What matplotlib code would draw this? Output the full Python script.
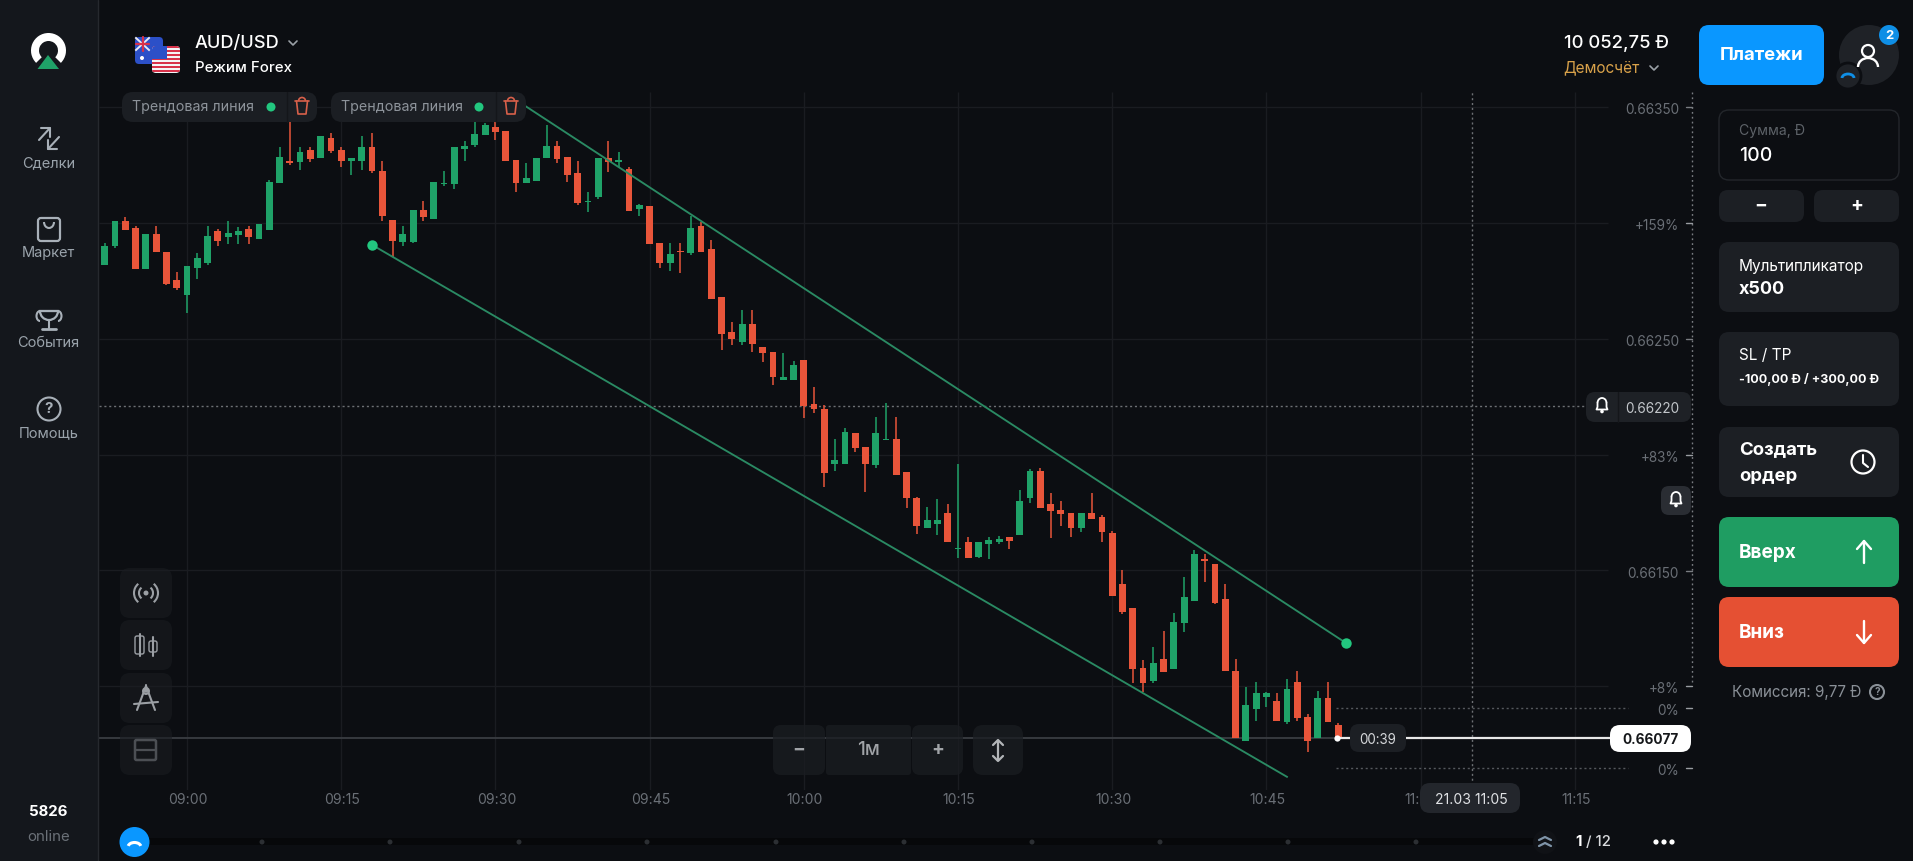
#!/usr/bin/env python3
"""AUD/USD 1m candles inside the trading terminal screen."""
import numpy as np
import matplotlib
matplotlib.use("Agg")
import matplotlib.pyplot as plt
from matplotlib.patches import Circle, FancyBboxPatch, Rectangle, Wedge, Polygon, Arc

plt.rcParams["font.family"] = ["Inter", "Roboto", "DejaVu Sans"]

# candles, prices x 1e6, one per minute; first candle is 8 minutes before 09:00
first_minute = -8
opens = [662819, 662901, 663009, 662978, 662802, 662955, 662877, 662755, 662690, 662808,
         662829, 662966, 662939, 662948, 662976, 662933, 662971, 663171, 663270, 663263,
         663317, 663279, 663366, 663317, 663268, 663268, 663327, 663225, 663012, 662920,
         662920, 663057, 663019, 663168, 663169, 663322, 663338, 663382, 663414, 663398,
         663273, 663171, 663181, 663279, 663333, 663284, 663215, 663090, 663112, 663281,
         663264, 663234, 663063, 663073, 662916, 662829, 662878, 662870, 662988, 662886,
         662680, 662528, 662485, 662566, 662467, 662445, 662323, 662323, 662407, 662220,
         662199, 661960, 661960, 662095, 662035, 661957, 662063, 662068, 661925, 661815,
         661683, 661699, 661750, 661593, 661622, 661560, 661613, 661623, 661645, 661652,
         661812, 661931, 661787, 661760, 661747, 661682, 661748, 661729, 661660, 661441,
         661338, 661077, 661024, 661116, 661073, 661273, 661369, 661551, 661528, 661376,
         661066, 660765, 660904, 660955, 660938, 660844, 661017, 660868, 660775, 660949,
         660831]
closes = [662903, 663008, 662971, 662802, 662955, 662874, 662737, 662719, 662814, 662848,
          662943, 662922, 662956, 662968, 662939, 662998, 663176, 663284, 663260, 663306,
          663277, 663376, 663310, 663268, 663283, 663327, 663227, 663030, 662922, 662955,
          663055, 663028, 663176, 663175, 663327, 663332, 663386, 663425, 663392, 663268,
          663171, 663196, 663283, 663333, 663277, 663208, 663086, 663096, 663283, 663263,
          663271, 663053, 663076, 662910, 662829, 662867, 662876, 662978, 662877, 662674,
          662523, 662501, 662566, 662478, 662441, 662334, 662337, 662389, 662210, 662199,
          661921, 661976, 662097, 662029, 661960, 662095, 662069, 661911, 661812, 661692,
          661718, 661718, 661625, 661599, 661553, 661623, 661632, 661638, 661629, 661799,
          661931, 661770, 661755, 661744, 661683, 661747, 661722, 661664, 661391, 661320,
          661073, 661014, 661099, 661063, 661279, 661387, 661571, 661543, 661358, 661064,
          660775, 660917, 660969, 660969, 660851, 660988, 660861, 660763, 660949, 660845,
          660778]
highs = [662916, 663008, 663025, 662988, 662955, 662988, 662877, 662788, 662814, 662870,
         662988, 662976, 663009, 662985, 662988, 662998, 663186, 663327, 663445, 663327,
         663327, 663376, 663388, 663330, 663283, 663376, 663391, 663267, 663012, 662988,
         663055, 663096, 663176, 663227, 663327, 663355, 663438, 663434, 663443, 663398,
         663273, 663258, 663283, 663424, 663355, 663284, 663266, 663136, 663283, 663355,
         663306, 663244, 663084, 663073, 662916, 662916, 662916, 663031, 663004, 662927,
         662680, 662574, 662625, 662625, 662467, 662445, 662438, 662406, 662407, 662294,
         662215, 662066, 662114, 662095, 662035, 662164, 662225, 662161, 661925, 661819,
         661776, 661809, 661786, 661960, 661643, 661623, 661646, 661649, 661645, 661848,
         661937, 661941, 661836, 661800, 661747, 661747, 661836, 661739, 661671, 661502,
         661338, 661113, 661171, 661240, 661317, 661470, 661588, 661571, 661528, 661440,
         661116, 660998, 661020, 660976, 660972, 661030, 661067, 660880, 660981, 661020,
         660843]
lows = [662819, 662893, 662971, 662802, 662802, 662874, 662733, 662711, 662611, 662759,
        662821, 662901, 662910, 662910, 662909, 662933, 662971, 663171, 663253, 663230,
        663264, 663279, 663302, 663241, 663208, 663230, 663218, 663009, 662855, 662901,
        662913, 663009, 663019, 663159, 663149, 663268, 663327, 663382, 663359, 663268,
        663135, 663171, 663181, 663279, 663261, 663179, 663077, 663050, 663103, 663220,
        663241, 663053, 663032, 662910, 662808, 662794, 662783, 662863, 662877, 662674,
        662452, 662474, 662474, 662442, 662402, 662299, 662323, 662323, 662160, 662181,
        661862, 661930, 661960, 662013, 661840, 661944, 662063, 661911, 661768, 661658,
        661683, 661653, 661625, 661553, 661553, 661553, 661548, 661614, 661591, 661652,
        661790, 661770, 661639, 661692, 661643, 661665, 661722, 661624, 661391, 661310,
        661012, 660976, 661012, 661063, 661073, 661235, 661369, 661451, 661355, 661064,
        660775, 660765, 660851, 660912, 660851, 660837, 660851, 660717, 660775, 660845,
        660775]

# two trend lines (minute, price x 1e6)
upper_minutes = [33.0, 112.7]
upper_prices = [663503, 661188]
lower_minutes = [18.0, 107.0]
lower_prices = [662906, 660609]

grid_prices = [0.6635, 0.6630, 0.6625, 0.6620, 0.6615, 0.6610]
grid_minutes = [0, 15, 30, 45, 60, 75, 90, 105, 120, 135]
time_minutes = [0, 15, 30, 45, 60, 75, 90, 105, 120, 135]
# 11:00 sits half under the date pill, only its start shows
time_labels = ["09:00", "09:15", "09:30", "09:45", "10:00", "10:15", "10:30", "10:45", "11:", "11:15"]
price_labels = ["0.66350", "0.66250", "0.66150"]
price_label_values = [0.6635, 0.6625, 0.6615]
pct_labels = ["+159%", "+83%", "+8%", "0%", "0%"]
pct_values = [0.6630, 0.6620, 0.6610, 0.660906, 0.660648]
current_price = 0.660778
cross_price = 0.66221
cross_minute = 125

W, H = 1913, 861
BG = "#0c0e12"
SIDE = "#14171c"
PANEL = "#1c1f24"
GREEN = "#1fa268"
RED = "#e8553a"
LINE_GREEN = "#2a8a63"
DOT_GREEN = "#22c77f"
BLUE = "#0a97ff"
GRID = "#1a1c21"
GREY = "#6a6f76"

# pixel scale of the chart
PX_MIN = 10.28


def px_to_minute(px):
    return (px - 187) / PX_MIN


def py_to_price(py):
    return (663500 - (py - 107.3) * 4.318) / 1e6


fig = plt.figure(figsize=(W / 100, H / 100), dpi=100, facecolor=BG)

# chart axes, real price / minute scale
c_left, c_right, c_top, c_bottom = 99, 1692, 92, 790
ax = fig.add_axes([c_left / W, 1 - c_bottom / H, (c_right - c_left) / W, (c_bottom - c_top) / H])
ax.set_xlim(px_to_minute(c_left), px_to_minute(c_right))
ax.set_ylim(py_to_price(c_bottom), py_to_price(c_top))
ax.axis("off")

minutes = first_minute + np.arange(len(opens))
o = np.array(opens) / 1e6
c = np.array(closes) / 1e6
hi = np.array(highs) / 1e6
lo = np.array(lows) / 1e6
colors = [GREEN if a >= b else RED for a, b in zip(c, o)]

grid_end = px_to_minute(1608)
ax.hlines(grid_prices, px_to_minute(c_left), grid_end, color=GRID, lw=1, zorder=1)
ax.vlines(grid_minutes, *ax.get_ylim(), color=GRID, lw=1, zorder=1)

# current price line and crosshair
ax.hlines(current_price, px_to_minute(c_left), px_to_minute(1337), color="#3a3d42", lw=1.3, zorder=2)
ax.hlines(cross_price, px_to_minute(c_left), px_to_minute(1588), color="#6d7074", lw=1, ls=(0, (1.5, 2)), zorder=2)
ax.vlines(cross_minute, *ax.get_ylim(), color="#6d7074", lw=1, ls=(0, (1.5, 2)), zorder=2)
ax.hlines(pct_values[3:], px_to_minute(1336), px_to_minute(1628), color="#55585d", lw=1, ls=(0, (1.5, 2)), zorder=2)

ax.vlines(minutes, lo, hi, color=colors, lw=1.1, zorder=3)
ax.bar(minutes, np.abs(c - o), bottom=np.minimum(o, c), width=0.66, color=colors, zorder=4, linewidth=0)

ax.plot(upper_minutes, np.array(upper_prices) / 1e6, color=LINE_GREEN, lw=1.35, zorder=5)
ax.plot(lower_minutes, np.array(lower_prices) / 1e6, color=LINE_GREEN, lw=1.35, zorder=5)
ax.plot(upper_minutes[1], upper_prices[1] / 1e6, "o", color=DOT_GREEN, ms=7.5, mew=0, zorder=6)
ax.plot(lower_minutes[0], lower_prices[0] / 1e6, "o", color=DOT_GREEN, ms=7.5, mew=0, zorder=6)
ax.hlines(current_price, px_to_minute(1336), px_to_minute(1610), color="#e8e8e8", lw=1.6, zorder=6)
ax.plot(px_to_minute(1337), current_price, "o", color="white", ms=4.5, mew=0, zorder=7)

# screen furniture, drawn in pixels over the chart
ui = fig.add_axes([0, 0, 1, 1], facecolor="none")
ui.set_xlim(0, W)
ui.set_ylim(H, 0)
ui.axis("off")


def box(x0, y0, x1, y1, color, r=8, alpha=1.0, edge="none", z=2):
    p = FancyBboxPatch((x0 + r, y0 + r), x1 - x0 - 2 * r, y1 - y0 - 2 * r,
                       boxstyle=f"round,pad={r},rounding_size={r}",
                       fc=color, ec=edge, lw=1, alpha=alpha, zorder=z)
    ui.add_patch(p)
    return p


def txt(x, y, s, size, color="white", ha="left", weight="normal", z=5):
    ui.text(x, y + 1, s, fontsize=size * 0.72, color=color, ha=ha, va="center", fontweight=weight, zorder=z)


def line(xs, ys, color="#a8b0b8", lw=1.5, z=5):
    ui.plot(xs, ys, color=color, lw=lw, zorder=z, solid_capstyle="round", solid_joinstyle="round")


def chevron(x, y, color="#9aa0a6"):
    line([x - 4, x, x + 4], [y - 2, y + 2, y - 2], color=color, lw=1.2)


def bell(x, y, color="white"):
    ui.add_patch(Arc((x, y - 2), 9, 10, theta1=180, theta2=360, ec=color, lw=1.3, zorder=6))
    line([x - 4.5, x - 4.5, x - 5.5, x + 5.5, x + 4.5, x + 4.5], [y - 2, y + 2, y + 4.5, y + 4.5, y + 2, y - 2], color=color, lw=1.3, z=6)
    ui.add_patch(Circle((x, y + 6.5), 1.8, fc=color, ec="none", zorder=6))


def help_icon(x, y, r, color, size):
    ui.add_patch(Circle((x, y), r, fc="none", ec=color, lw=1.5, zorder=5))
    txt(x, y - 1, "?", size, color, ha="center", weight="bold")


# left sidebar
ui.add_patch(Rectangle((0, 0), 98, H, fc=SIDE, ec="none", zorder=1))
line([98, 98], [0, H], color="#26292e", lw=1, z=2)
ui.add_patch(Wedge((48.5, 50.5), 17.5, 135, 45, width=8, fc="white", ec="none", zorder=3))
ui.add_patch(Polygon([(48, 55), (37.5, 69), (59, 69)], fc="#1fa268", ec="none", zorder=4))

nav_labels = ["Сделки", "Маркет", "События", "Помощь"]
nav_y = [162, 252, 342, 432]
for lab, yy in zip(nav_labels, nav_y):
    txt(48.5, yy, lab, 14.6, "#9aa3ab", ha="center")
# deals
line([39, 50], [140, 128]); line([41, 50, 50], [128, 128, 137])
line([59, 48], [137, 149]); line([48, 48, 57], [140, 149, 149])
# market
box(38, 218, 60, 241, "none", r=3, edge="#a8b0b8", z=5)
ui.patches[-1].set_linewidth(1.6)
ui.add_patch(Arc((49, 222), 10, 12, theta1=0, theta2=180, ec="#a8b0b8", lw=1.5, zorder=5))
# trophy
ui.add_patch(Wedge((49, 311), 9, 0, 180, fc="none", ec="#a8b0b8", lw=1.6, zorder=5))
line([40, 58], [311, 311]); line([49, 49], [320, 328]); line([42, 56], [329, 329], lw=2)
ui.add_patch(Arc((40, 316), 7, 10, theta1=90, theta2=270, ec="#a8b0b8", lw=1.5, zorder=5))
ui.add_patch(Arc((58, 316), 7, 10, theta1=-90, theta2=90, ec="#a8b0b8", lw=1.5, zorder=5))
# help
help_icon(49, 409, 11.5, "#a8b0b8", 15)
txt(48.5, 811, "5826", 15, "white", ha="center", weight="bold")
txt(48.5, 836, "online", 15, "#6b7178", ha="center")

# header
au = box(135, 37, 163, 64, "#2c50c8", r=4, z=3)
ui.plot([136, 149, np.nan, 136, 149], [38, 50, np.nan, 50, 38], color="#e9e9f2", lw=1.4, zorder=4)
line([142.5, 142.5], [37, 51], color="#d8324a", lw=1.6, z=4)
line([136, 149], [44, 44], color="#d8324a", lw=1.6, z=4)
ui.add_patch(Circle((142, 58), 2, fc="white", ec="none", zorder=4))
us = box(152, 46, 180, 73, "#f4f4f6", r=4, z=5)
for k in range(7):
    s = ui.add_patch(Rectangle((152, 46 + k * 4), 28, 2, fc="#d8324a", ec="none", zorder=6))
    s.set_clip_path(us)
s = ui.add_patch(Rectangle((152, 46), 15, 13, fc="#2c50c8", ec="none", zorder=7))
s.set_clip_path(us)
txt(195, 42, "AUD/USD", 18.2, "white", weight="medium")
txt(195, 67, "Режим Forex", 15, "white", weight="medium")
chevron(293, 43)

txt(1669, 42, "10 052,75 Ð", 18.4, "white", ha="right", weight="medium")
txt(1563, 67, "Демосчёт", 15.4, "#d9a24a")
chevron(1654, 68)
box(1699, 25, 1824, 85, BLUE, r=10)
txt(1762, 55, "Платежи", 18.5, "white", ha="center", weight="bold")
ui.add_patch(Circle((1869, 55), 30, fc="#1f2227", ec="none", zorder=2))
ui.add_patch(Circle((1868, 51), 6, fc="none", ec="white", lw=1.6, zorder=4))
ui.add_patch(Arc((1868, 67), 20, 18, theta1=180, theta2=360, ec="white", lw=1.7, zorder=4))
ui.add_patch(Circle((1889, 35), 10, fc="#0f8fe6", ec=BG, lw=0, zorder=4))
txt(1889, 35, "2", 13, "white", ha="center", weight="bold")
ui.add_patch(Circle((1848, 76), 13, fc="#1f2227", ec=BG, lw=2, zorder=3))
ui.add_patch(Arc((1848, 78), 12, 8, theta1=180, theta2=360, ec="#0f8fe6", lw=2, zorder=4))

# trend line pills
for x0, x1, div, dot, trash in [(122, 317, 287, 271, 302), (331, 526, 496, 479, 511)]:
    box(x0, 92, x1, 122, "#1b1e23", r=11)
    line([div, div], [92, 122], color="#14161a", lw=1, z=3)
    txt(x0 + 10, 106, "Трендовая линия", 14.3, "#8d939a")
    ui.add_patch(Circle((dot, 107), 4.5, fc=DOT_GREEN, ec="none", zorder=5))
    line([trash - 7, trash + 7], [101, 101], color="#d8604a", lw=1.2)
    line([trash - 5.5, trash - 4, trash + 4, trash + 5.5], [101, 114, 114, 101], color="#d8604a", lw=1.2)
    ui.add_patch(Arc((trash, 101), 7, 7, theta1=180, theta2=360, ec="#d8604a", lw=1.2, zorder=5))

# price axis
line([1691.7, 1691.7], [92, 682], color="#7a7d82", lw=1, z=3)
ui.lines[-1].set_linestyle((0, (1.3, 2.2)))
for lab, val in zip(price_labels, price_label_values):
    yy = 107.3 + (0.6635 - val) * 231600
    txt(1679, yy + 2, lab, 13.6, GREY, ha="right")
    line([1686, 1692], [yy, yy], color="#7a7d82", lw=1, z=3)
for lab, val in zip(pct_labels, pct_values):
    yy = 107.3 + (0.6635 - val) * 231600
    txt(1679, yy + 2, lab, 13.6, GREY, ha="right")
    line([1686, 1692], [yy, yy], color="#9a9da2", lw=1, z=3)

box(1586, 392, 1691, 422, "#1e2126", r=9)
line([1618, 1618], [392, 422], color="#14161a", lw=1, z=3)
bell(1602, 405, "white")
txt(1679, 408, "0.66220", 13.6, "#c2c6ca", ha="right")
box(1661, 486, 1691, 515, "#2a2d33", r=8)
bell(1676, 499, "white")

box(1610, 725, 1691, 752, "white", r=10)
txt(1679, 739, "0.66077", 13.6, "#15171a", ha="right", weight="bold")
box(1350, 724, 1406, 752, "#1c1f24", r=9)
txt(1378, 739, "00:39", 13.4, "#d5d7da", ha="center")

# time axis
for m, lab in zip(time_minutes, time_labels):
    if lab == "11:":
        txt(1420, 799, lab, 14, GREY, ha="right", z=3)
    else:
        txt(187 + m * PX_MIN + 1, 799, lab, 14, GREY, ha="center", z=3)
box(1420, 783, 1520, 813, "#23262c", r=10, z=4)
txt(1471, 799, "21.03 11:05", 14, "#dfe1e4", ha="center")

# left tool buttons
for y0 in [568, 620, 673, 725]:
    box(120, y0, 172, y0 + 50, "#1a1d21", r=10, alpha=0.6)
cx = 146
ui.add_patch(Circle((cx, 593), 2.5, fc="#9b9fa4", ec="none", zorder=5))
for rr in (7, 12):
    ui.add_patch(Arc((cx, 593), rr * 2, rr * 2, theta1=-50, theta2=50, ec="#9b9fa4", lw=1.5, zorder=5))
    ui.add_patch(Arc((cx, 593), rr * 2, rr * 2, theta1=130, theta2=230, ec="#9b9fa4", lw=1.5, zorder=5))
box(135, 636, 144, 654, "none", r=2, edge="#9b9fa4", z=5)
box(149, 641, 157, 652, "none", r=2, edge="#9b9fa4", z=5)
line([139.5, 139.5], [634, 656], color="#9b9fa4"); line([153, 153], [637, 656], color="#9b9fa4")
line([146, 137], [686, 710], color="#9b9fa4"); line([146, 155], [686, 710], color="#9b9fa4")
line([134, 158], [704, 702], color="#9b9fa4"); line([146, 146], [685, 692], color="#9b9fa4")
ui.add_patch(Circle((146, 691), 3, fc="none", ec="#9b9fa4", lw=1.4, zorder=5))
box(135, 740, 156, 760, "none", r=1.5, edge="#4c4f54", z=5)
ui.patches[-1].set_linewidth(1.8)
line([135, 156], [750, 750], color="#4c4f54", lw=1.6)

# zoom controls
box(773, 725, 825, 775, "#1a1d21", r=8, alpha=0.75)
box(826, 725, 911, 775, "#1a1d21", r=3, alpha=0.75)
box(912, 725, 963, 775, "#1a1d21", r=8, alpha=0.75)
box(973, 725, 1023, 775, "#1a1d21", r=10, alpha=0.75)
txt(799, 749, "−", 19, "#a0a3a7", ha="center", weight="bold")
txt(868, 749, "1м", 19, "#a0a3a7", ha="center", weight="medium")
txt(938, 749, "+", 19, "#a0a3a7", ha="center", weight="bold")
line([998, 998], [741, 760], color="#b2b5b8", lw=1.6)
line([993, 998, 1003], [745, 740, 745], color="#b2b5b8", lw=1.6)
line([993, 998, 1003], [756, 761, 756], color="#b2b5b8", lw=1.6)

# scroll bar
ui.add_patch(Rectangle((130, 838), 1405, 7, fc="#07080a", ec="none", zorder=2))
for dot_x in [262, 390, 519, 647, 776, 904, 1032, 1160, 1288, 1416]:
    ui.add_patch(Circle((dot_x, 842), 2.5, fc="#2c2f33", ec="none", zorder=3))
ui.add_patch(Circle((134.5, 842), 15, fc=BLUE, ec="none", zorder=4))
ui.add_patch(Arc((134.5, 847), 13, 9, theta1=190, theta2=350, ec="white", lw=2.2, zorder=5))
ui.add_patch(Circle((1545, 842), 12, fc="#101216", ec="none", zorder=3))
line([1539, 1545, 1551], [840, 837, 840], color="#7f94a8", lw=1.6)
line([1539, 1545, 1551], [846, 843, 846], color="#7f94a8", lw=1.6)
txt(1575, 841, "1", 15, "white", weight="bold")
txt(1586, 841, "/ 12", 15, "#d8dadd", weight="medium")
for dx in (1656, 1664, 1672):
    ui.add_patch(Circle((dx, 842), 2.6, fc="white", ec="none", zorder=5))

# right panel
box(1719, 110, 1899, 180, BG, r=10, edge="#23262b")
txt(1739, 130, "Сумма, Ð", 14, "#5d6268")
txt(1739, 155, "100", 19.5, "white", weight="medium")
box(1719, 190, 1804, 222, PANEL, r=9)
box(1814, 190, 1899, 222, PANEL, r=9)
txt(1761, 205, "−", 19, "white", ha="center", weight="bold")
txt(1857, 205, "+", 19, "white", ha="center", weight="bold")
box(1719, 242, 1899, 312, PANEL, r=10)
txt(1739, 265, "Мультипликатор", 15.4, "white")
txt(1739, 289, "x500", 18, "white", weight="bold")
box(1719, 332, 1899, 406, PANEL, r=10)
txt(1739, 355, "SL / TP", 15.4, "white")
txt(1739, 378, "-100,00 Ð / +300,00 Ð", 12.5, "white", weight="bold")
box(1719, 427, 1899, 497, PANEL, r=10)
txt(1739, 449, "Создать", 18.6, "white", weight="bold")
txt(1739, 475, "ордер", 18.6, "white", weight="bold")
ui.add_patch(Circle((1863, 462), 11.5, fc="none", ec="white", lw=1.6, zorder=5))
line([1863, 1863, 1868], [455, 463, 467], color="white", lw=1.5)
box(1719, 517, 1899, 587, "#1f9d62", r=10)
txt(1739, 552, "Вверх", 19, "white", weight="bold")
line([1864, 1864], [541, 563], color="white", lw=1.7)
line([1857, 1864, 1871], [549, 541, 549], color="white", lw=1.7)
box(1719, 597, 1899, 667, "#e55033", r=10)
txt(1739, 632, "Вниз", 19, "white", weight="bold")
line([1864, 1864], [621, 643], color="white", lw=1.7)
line([1857, 1864, 1871], [635, 643, 635], color="white", lw=1.7)
txt(1732, 691, "Комиссия: 9,77 Ð", 15.2, "#8a9097")
help_icon(1877, 692, 7, "#8a9097", 10)

fig.savefig("out.png", dpi=100, facecolor=BG)
